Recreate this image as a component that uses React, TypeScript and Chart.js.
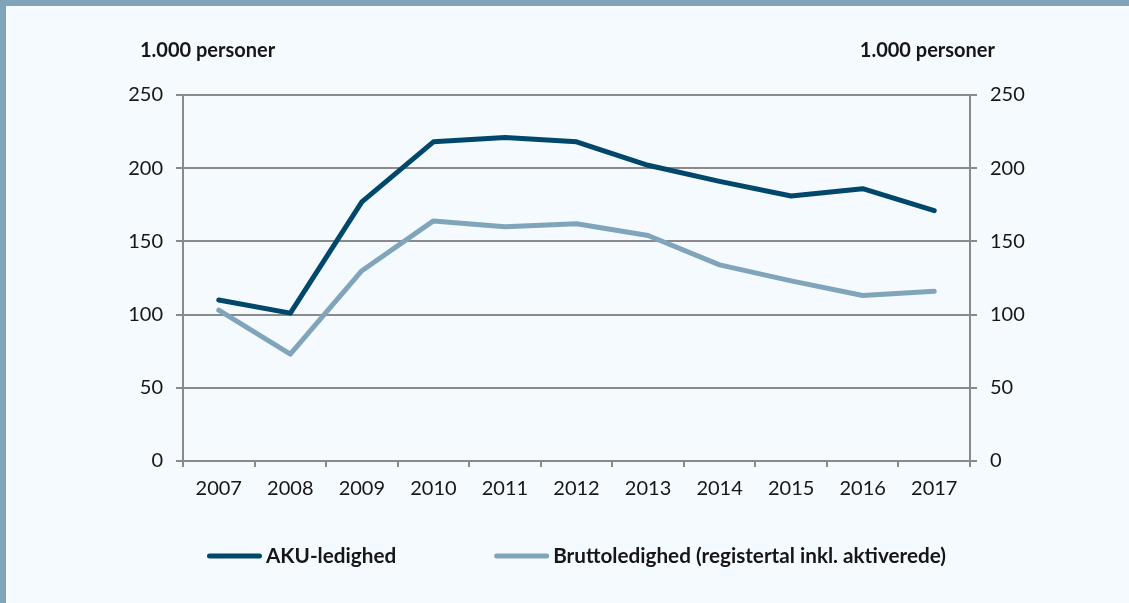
import React, { useEffect, useRef } from "react";
import { Chart, registerables } from "chart.js";

Chart.register(...registerables);

const years = ["2007", "2008", "2009", "2010", "2011", "2012", "2013", "2014", "2015", "2016", "2017"];
const akuLedighed = [110, 101, 177, 218, 221, 218, 202, 191, 181, 186, 171];
const bruttoLedighed = [103, 73, 130, 164, 160, 162, 154, 134, 123, 113, 116];
const yTicks = [0, 50, 100, 150, 200, 250];
const unitLabel = "1.000 personer";
const seriesNames = ["AKU-ledighed", "Bruttoledighed (registertal inkl. aktiverede)"];
const seriesColors = ["#00476c", "#80a5ba"];

const FONT = "Lato, 'Open Sans', sans-serif";
const TEXT = "#161616";
const GRID = "#8a8a8a";

const overlayPlugin = {
  id: "overlay",
  afterDraw(chart: any) {
    const { ctx, chartArea: ca } = chart;
    ctx.save();
    ctx.fillStyle = TEXT;
    ctx.font = `bold 20px ${FONT}`;
    ctx.textBaseline = "alphabetic";
    ctx.textAlign = "left";
    ctx.fillText(unitLabel, ca.left - 43, ca.top - 38);
    ctx.textAlign = "right";
    ctx.fillText(unitLabel, ca.right + 25, ca.top - 38);

    // legend
    ctx.font = `bold 20.7px ${FONT}`;
    const lineLen = 55;
    const gap = 4;
    const itemGap = 98;
    const dss = chart.data.datasets;
    const widths = dss.map((ds: any) => lineLen + gap + ctx.measureText(ds.label).width);
    const total = widths.reduce((a: number, b: number) => a + b, 0) + itemGap * (dss.length - 1);
    let x = (ca.left + ca.right) / 2 - total / 2;
    const yLine = ca.bottom + 95;
    const yText = ca.bottom + 101.5;
    dss.forEach((ds: any, i: number) => {
      ctx.beginPath();
      ctx.lineWidth = 5;
      ctx.lineCap = "round";
      ctx.strokeStyle = ds.borderColor;
      ctx.moveTo(x + 2.5, yLine);
      ctx.lineTo(x + lineLen - 2.5, yLine);
      ctx.stroke();
      ctx.textAlign = "left";
      ctx.fillStyle = TEXT;
      ctx.fillText(ds.label, x + lineLen + gap, yText);
      x += widths[i] + itemGap;
    });
    ctx.restore();
  },
};

export default function App() {
  const ref = useRef<HTMLCanvasElement | null>(null);

  useEffect(() => {
    if (!ref.current) return;
    const chart = new Chart(ref.current, {
      type: "line",
      data: {
        labels: years,
        datasets: [
          {
            label: seriesNames[0],
            data: akuLedighed,
            borderColor: seriesColors[0],
            backgroundColor: seriesColors[0],
            borderWidth: 5,
            pointRadius: 0,
            pointHoverRadius: 0,
            tension: 0,
            borderCapStyle: "round",
            borderJoinStyle: "round",
            yAxisID: "y",
          },
          {
            label: seriesNames[1],
            data: bruttoLedighed,
            borderColor: seriesColors[1],
            backgroundColor: seriesColors[1],
            borderWidth: 5,
            pointRadius: 0,
            pointHoverRadius: 0,
            tension: 0,
            borderCapStyle: "round",
            borderJoinStyle: "round",
            yAxisID: "y",
          },
        ],
      },
      options: {
        animation: false,
        responsive: false,
        devicePixelRatio: 1,
        layout: { padding: { top: 95, left: 0, right: 0, bottom: 0 } },
        plugins: {
          legend: { display: false },
          tooltip: { enabled: false },
          title: { display: false },
        },
        scales: {
          x: {
            type: "category",
            offset: true,
            grid: {
              display: true,
              offset: true,
              drawOnChartArea: false,
              drawTicks: true,
              tickLength: 6,
              color: GRID,
              lineWidth: 2,
            },
            border: { display: true, color: GRID, width: 2 },
            ticks: {
              color: TEXT,
              font: { family: FONT, size: 20 },
              padding: 10,
              maxRotation: 0,
              autoSkip: false,
            },
            afterFit(scale: any) {
              scale.height = 142;
            },
          },
          y: {
            position: "left",
            min: 0,
            max: 250,
            afterBuildTicks(scale: any) {
              scale.ticks = yTicks.map((v) => ({ value: v }));
            },
            grid: {
              display: true,
              drawOnChartArea: true,
              drawTicks: true,
              tickLength: 7,
              color: GRID,
              lineWidth: 2,
            },
            border: { display: true, color: GRID, width: 2 },
            ticks: {
              color: TEXT,
              font: { family: FONT, size: 20 },
              padding: 13,
            },
            afterFit(scale: any) {
              scale.width = 183;
            },
          },
          y2: {
            position: "right",
            min: 0,
            max: 250,
            afterBuildTicks(scale: any) {
              scale.ticks = yTicks.map((v) => ({ value: v }));
            },
            grid: {
              display: true,
              drawOnChartArea: false,
              drawTicks: true,
              tickLength: 7,
              color: GRID,
              lineWidth: 2,
            },
            border: { display: true, color: GRID, width: 2 },
            ticks: {
              color: TEXT,
              font: { family: FONT, size: 20 },
              padding: 13,
            },
            afterFit(scale: any) {
              scale.width = 159;
            },
          },
        },
      },
      plugins: [overlayPlugin],
    } as any);
    return () => chart.destroy();
  }, []);

  return (
    <div
      style={{
        position: "absolute",
        left: 0,
        top: 0,
        width: 1129,
        height: 603,
        background: "#f5faff",
        overflow: "hidden",
      }}
    >
      <div style={{ position: "absolute", left: 0, top: 0, width: 1129, height: 6, background: "#7fa3b9" }} />
      <div style={{ position: "absolute", left: 0, top: 0, width: 6, height: 603, background: "#7fa3b9" }} />
      <canvas
        ref={ref}
        width={1129}
        height={603}
        style={{ position: "absolute", left: 0, top: 0, width: 1129, height: 603 }}
      />
    </div>
  );
}
